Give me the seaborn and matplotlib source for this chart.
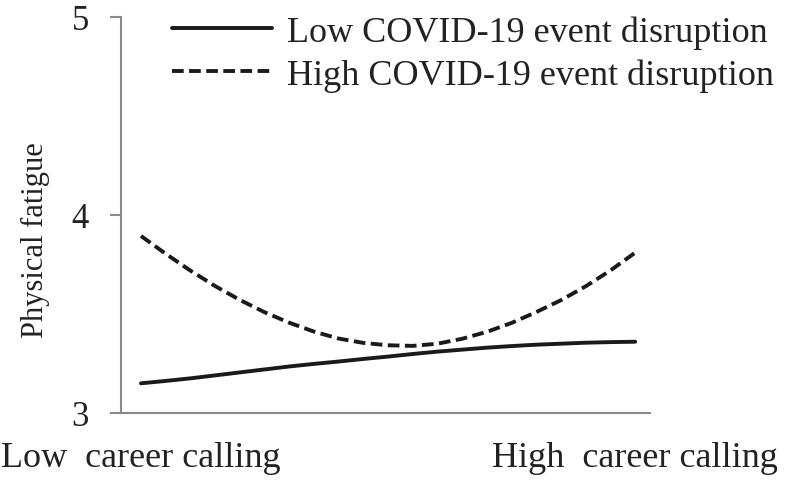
import numpy as np
import pandas as pd
import seaborn as sns
import matplotlib.pyplot as plt

sns.set_theme(style="white")
plt.rcParams['font.family'] = ['Liberation Serif', 'DejaVu Serif']

# career calling, 0 = low, 1 = high
calling = [0.00, 0.05, 0.10, 0.15, 0.20, 0.25, 0.30, 0.35, 0.40, 0.45, 0.50,
           0.55, 0.60, 0.65, 0.70, 0.75, 0.80, 0.85, 0.90, 0.95, 1.00]
low_disruption = [3.150, 3.162, 3.175, 3.190, 3.205, 3.220, 3.235, 3.248, 3.260, 3.273, 3.285,
                  3.298, 3.310, 3.320, 3.330, 3.338, 3.345, 3.350, 3.355, 3.358, 3.360]
high_disruption = [3.894, 3.804, 3.719, 3.641, 3.571, 3.509, 3.456, 3.411, 3.376, 3.354, 3.342,
                   3.339, 3.350, 3.375, 3.410, 3.455, 3.510, 3.570, 3.640, 3.720, 3.810]
groups = ["Low COVID-19 event disruption", "High COVID-19 event disruption"]
xtick_labels = ["Low  career calling", "High  career calling"]

df = pd.DataFrame({
    "calling": calling * 2,
    "fatigue": low_disruption + high_disruption,
    "group": [groups[0]] * len(calling) + [groups[1]] * len(calling),
})

fig = plt.figure(figsize=(7.93, 4.81), dpi=100)
ax = fig.add_axes([121/793, 1 - 414/481, 529/793, 396/481])

sns.lineplot(data=df, x="calling", y="fatigue", style="group", style_order=groups,
             dashes={groups[0]: "", groups[1]: (3, 1.4)},
             color="#1a1a1a", linewidth=2.8, ax=ax)
for line in ax.get_lines():
    line.set_solid_capstyle("round")
    line.set_solid_joinstyle("round")

ax.set_xlim(-0.0405, 1.03)
ax.set_ylim(3, 5)
ax.set_yticks([3, 4, 5])
ax.set_xticks([0, 1])
ax.set_xticklabels(xtick_labels)
ax.set_xlabel("")
ax.set_ylabel("Physical fatigue", fontsize=22, color="#222222")
ax.yaxis.set_label_coords(-0.134, 0.44)

for s in ["top", "right"]:
    ax.spines[s].set_visible(False)
for s in ["left", "bottom"]:
    ax.spines[s].set_color("#8a8a8a")
    ax.spines[s].set_linewidth(1.5)

ax.tick_params(axis="y", length=8, width=1.5, color="#8a8a8a", pad=15,
               labelsize=25, labelcolor="#222222", left=True)
ax.tick_params(axis="x", length=0, pad=20, labelsize=26, labelcolor="#222222")

leg = ax.legend(loc="upper left", bbox_to_anchor=(0.096, 1.005), frameon=False,
                fontsize=26, handlelength=2.78, handletextpad=0.42,
                labelspacing=0.28, borderpad=0, borderaxespad=0)
for t in leg.get_texts():
    t.set_color("#222222")

fig.savefig("out.png", dpi=100)
